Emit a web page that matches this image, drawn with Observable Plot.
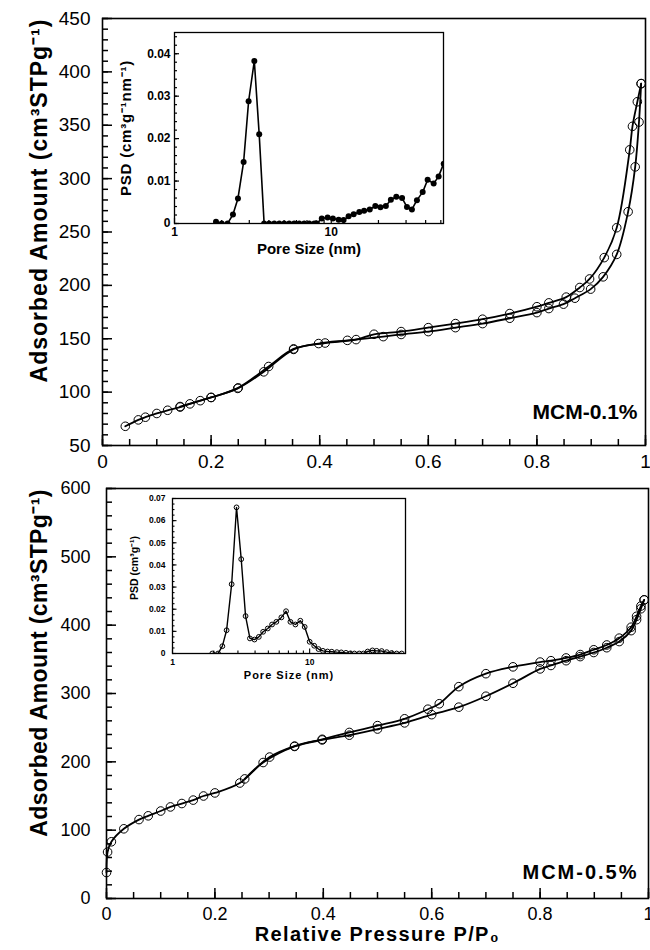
<!DOCTYPE html>
<html><head><meta charset="utf-8">
<script src="https://cdn.jsdelivr.net/npm/d3@7"></script>
<script src="https://cdn.jsdelivr.net/npm/@observablehq/plot@0.6"></script>
<style>
body{margin:0;background:white;}
#wrap{position:relative;width:650px;height:950px;font-family:"Liberation Sans",Arial,sans-serif;}
#wrap > div{position:absolute;}
</style></head><body><div id="wrap"></div>
<script>
// ---------- data: MCM-0.1% isotherm ----------
const topAdsP = [0.042,0.066,0.079,0.10,0.12,0.143,0.161,0.18,0.20,0.249,0.297,0.352,0.398,0.451,0.517,0.55,0.60,0.65,0.70,0.75,0.80,0.822,0.849,0.87,0.899,0.922,0.947,0.968,0.981,0.988,0.992];
const topAdsV = [68,74,76.5,80,83,86,89,92,95,103.5,119,140,145.5,148.5,152,154,156.7,160.4,164.2,169.2,174.5,178.3,182.4,188,196.5,208,229,269,311,353,389];
const topDesP = [0.992,0.985,0.976,0.971,0.947,0.924,0.897,0.879,0.854,0.822,0.80,0.75,0.70,0.65,0.60,0.55,0.50,0.467,0.41,0.352,0.306,0.25,0.20,0.143];
const topDesV = [389,372,349,327,254,226,206,198,189,183.6,180,173.6,168.3,164.2,160.4,156.7,154.2,149.2,146,140.5,124,104,95,86.5];
// ---------- data: MCM-0.5% isotherm ----------
const botAdsP = [0,0.002,0.009,0.032,0.06,0.077,0.10,0.118,0.139,0.16,0.179,0.20,0.246,0.289,0.347,0.398,0.448,0.50,0.55,0.60,0.65,0.70,0.75,0.80,0.82,0.848,0.874,0.899,0.923,0.946,0.968,0.978,0.986,0.992];
const botAdsV = [38,68,83,102,115.5,121,128,134,139,144,150,154.5,169,199,222.5,232,239,248,257,269,280,296,315,336,341,348,354,360,367,376,392,408,424,437];
const botDesP = [0.992,0.986,0.978,0.968,0.946,0.923,0.899,0.874,0.848,0.82,0.80,0.75,0.70,0.65,0.614,0.593,0.55,0.50,0.448,0.398,0.347,0.301,0.255];
const botDesV = [437,428,413,397,381,371,364,357,352,348,346,339,329,310,285,277,263,253,243,233,223,207,175];
// ---------- data: PSD insets ----------
const psd1D = [1.84,2.0,2.18,2.36,2.54,2.76,2.97,3.23,3.47,3.73,4.02,4.33,4.66,5.01,5.39,5.8,6.25,6.72,7.24,7.79,8.1,8.7,9.48,10.24,11.14,11.99,12.9,13.9,15.1,16.2,17.6,19.1,20.6,22.3,24.0,26.0,28.3,30.4,32.7,35.2,38.3,41.2,45.0,48.4,52.1];
const psd1V = [0.0004,0,0,0.0021,0.0059,0.0145,0.0288,0.0383,0.021,0,0,0,0,0,0,0,0,0,0,0,0,0.0012,0.0014,0.0012,0.0009,0.0008,0.0017,0.0022,0.0027,0.003,0.0033,0.0041,0.0038,0.0041,0.0056,0.0063,0.006,0.0039,0.0033,0.0055,0.0074,0.0103,0.0094,0.0111,0.0141];
const psd2D = [1.95,2.15,2.31,2.48,2.70,2.93,3.17,3.41,3.67,3.96,4.26,4.58,4.95,5.32,5.72,6.22,6.73,7.24,7.87,8.55,9.2,10,10.8,11.6,12.5,13.5,14.5,15.8,17.0,18.4,19.7,21.2,23.0,24.7,26.5,28.7,30.8,33.5,36.5,39.6,43.1,46.9];
const psd2V = [0,0,0.0033,0.0105,0.0313,0.066,0.0426,0.0169,0.0068,0.0063,0.0075,0.0098,0.0113,0.0131,0.0143,0.0163,0.0191,0.0143,0.0131,0.0148,0.012,0.0053,0.0035,0.002,0.0012,0.0009,0.0008,0.0006,0.0005,0.0003,0,0,0,0,0.0009,0.0014,0.0012,0.0011,0.0006,0.0002,0,0];
// ---------- ticks ----------
const xTickLabels = [0,0.2,0.4,0.6,0.8,1];
const topYTickLabels = [50,100,150,200,250,300,350,400,450];
const botYTickLabels = [0,100,200,300,400,500,600];
const inset1YTicks = [0,0.01,0.02,0.03,0.04];
const inset2YTicks = [0,0.01,0.02,0.03,0.04,0.05,0.06,0.07];
const logMajor = [1,10];
const logMinor = [2,3,4,5,6,7,8,9,20,30,40,50];

const pairs = (P,V) => P.map((p,i)=>({p, v:V[i]}));
const topAds = pairs(topAdsP, topAdsV), topDes = pairs(topDesP, topDesV);
const botAds = pairs(botAdsP, botAdsV), botDes = pairs(botDesP, botDesV);
const psd1 = pairs(psd1D, psd1V), psd2 = pairs(psd2D, psd2V);

const range = (a,b,s) => d3.range(Math.round((b-a)/s)+1).map(i => +(a+i*s).toFixed(6));
const fmtX = d => String(d);
const baseStyle = {background:"transparent", fontFamily:"'Liberation Sans', Arial, sans-serif", color:"black", overflow:"visible"};

// Inward axis ticks drawn as rules; a pixel tick length is converted to data units
// from the scale's domain and the frame size.
function tickMarks(cfg){
  const {xDomain, yDomain, xLog, innerW, innerH, xMajor, xMinor, yMajor, yMinor, lenMajor, lenMinor, w} = cfg;
  const yAt = px => yDomain[0] + px * (yDomain[1] - yDomain[0]) / innerH;
  const xAt = px => xLog ? xDomain[0] * Math.pow(xDomain[1] / xDomain[0], px / innerW) : xDomain[0] + px * (xDomain[1] - xDomain[0]) / innerW;
  const st = {stroke:"black", strokeWidth:w};
  return [
    Plot.ruleX(xMinor, {x:d=>d, y1:yDomain[0], y2:yAt(lenMinor), ...st}),
    Plot.ruleX(xMajor, {x:d=>d, y1:yDomain[0], y2:yAt(lenMajor), ...st}),
    Plot.ruleY(yMinor, {y:d=>d, x1:xDomain[0], x2:xAt(lenMinor), ...st}),
    Plot.ruleY(yMajor, {y:d=>d, x1:xDomain[0], x2:xAt(lenMajor), ...st})
  ];
}

function place(el, left, top){ const d=document.createElement("div"); d.style.left=left+"px"; d.style.top=top+"px"; d.appendChild(el); document.getElementById("wrap").appendChild(d); }
function space(svg, txt, px){ d3.select(svg).selectAll("text").filter(function(){ return this.textContent === txt; }).attr("letter-spacing", px); }

function iso(ads, des){
  return [
    Plot.line(ads, {x:"p", y:"v", stroke:"black", strokeWidth:1.8, curve:"catmull-rom"}),
    Plot.line(des, {x:"p", y:"v", stroke:"black", strokeWidth:1.8, curve:"catmull-rom"}),
    Plot.dot(ads, {x:"p", y:"v", r:4.3, stroke:"black", fill:"none", strokeWidth:1}),
    Plot.dot(des, {x:"p", y:"v", r:4.3, stroke:"black", fill:"none", strokeWidth:1})
  ];
}
const yLabel = "Adsorbed Amount (cm³STPg⁻¹)";

// ---------- top main chart ----------
const T = {w:650, h:470, ml:102, mr:5, mt:18, mb:25};
const topX = [0,1], topY = [50,450];
const topPlot = Plot.plot({
  width:T.w, height:T.h, marginLeft:T.ml, marginRight:T.mr, marginTop:T.mt, marginBottom:T.mb,
  style: baseStyle,
  x:{domain:topX}, y:{domain:topY},
  marks:[
    ...iso(topAds, topDes),
    ...tickMarks({xDomain:topX, yDomain:topY, innerW:T.w-T.ml-T.mr, innerH:T.h-T.mt-T.mb,
      xMajor:xTickLabels, xMinor:range(0,1,0.05), yMajor:topYTickLabels, yMinor:range(50,450,10), lenMajor:10, lenMinor:6, w:1.5}),
    Plot.frame({stroke:"black", strokeWidth:1.6}),
    Plot.axisX(xTickLabels, {tickSize:0, tickPadding:9, fontSize:19, tickFormat:fmtX, label:null}),
    Plot.axisY(topYTickLabels, {tickSize:0, tickPadding:12, fontSize:19, label:null}),
    Plot.text([yLabel], {frameAnchor:"left", textAnchor:"middle", rotate:-90, dx:-63, dy:-31.5, fontSize:23, fontWeight:"bold"}),
    Plot.text(["MCM-0.1%"], {frameAnchor:"bottom-right", textAnchor:"end", dx:-8, dy:-27, fontSize:21, fontWeight:"bold"})
  ]
});
space(topPlot, yLabel, 1);
place(topPlot, 0, 0);

// ---------- bottom main chart ----------
const B = {w:650, h:480, ml:106, mr:2, mt:18, mb:52};
const botX = [0,1], botY = [0,600];
const botPlot = Plot.plot({
  width:B.w, height:B.h, marginLeft:B.ml, marginRight:B.mr, marginTop:B.mt, marginBottom:B.mb,
  style: baseStyle,
  x:{domain:botX}, y:{domain:botY},
  marks:[
    ...iso(botAds, botDes),
    ...tickMarks({xDomain:botX, yDomain:botY, innerW:B.w-B.ml-B.mr, innerH:B.h-B.mt-B.mb,
      xMajor:xTickLabels, xMinor:range(0,1,0.05), yMajor:botYTickLabels, yMinor:range(0,600,20), lenMajor:10, lenMinor:6, w:1.5}),
    Plot.frame({stroke:"black", strokeWidth:1.6}),
    Plot.axisX(xTickLabels, {tickSize:0, tickPadding:9, fontSize:18, tickFormat:fmtX, label:null}),
    Plot.axisY(botYTickLabels, {tickSize:0, tickPadding:16, fontSize:18, label:null}),
    Plot.text([yLabel], {frameAnchor:"left", textAnchor:"middle", rotate:-90, dx:-67, dy:-30.5, fontSize:23, fontWeight:"bold"}),
    Plot.text(["MCM-0.5%"], {frameAnchor:"bottom-right", textAnchor:"end", dx:-10, dy:-20, fontSize:20, fontWeight:"bold"}),
    Plot.text(["Relative Pressure P/P₀"], {frameAnchor:"bottom", dy:42, fontSize:20, fontWeight:"bold"})
  ]
});
space(botPlot, yLabel, 0.4);
space(botPlot, "MCM-0.5%", 2);
space(botPlot, "Relative Pressure P/P₀", 1.4);
place(botPlot, 0, 470);

// ---------- inset 1 ----------
const in1Label = "PSD (cm³g⁻¹nm⁻¹)";
const I1 = {w:345, h:250, ml:64, mr:12, mt:12, mb:47};
const in1X = [1,52], in1Y = [0,0.045];
const in1 = Plot.plot({
  width:I1.w, height:I1.h, marginLeft:I1.ml, marginRight:I1.mr, marginTop:I1.mt, marginBottom:I1.mb,
  style: baseStyle,
  x:{type:"log", domain:in1X}, y:{domain:in1Y},
  marks:[
    Plot.line(psd1, {x:"p", y:"v", stroke:"black", strokeWidth:1.6, clip:true}),
    Plot.dot(psd1, {x:"p", y:"v", r:3, fill:"black", clip:true}),
    ...tickMarks({xDomain:in1X, yDomain:in1Y, xLog:true, innerW:I1.w-I1.ml-I1.mr, innerH:I1.h-I1.mt-I1.mb,
      xMajor:logMajor, xMinor:logMinor, yMajor:inset1YTicks, yMinor:range(0,0.044,0.002), lenMajor:5, lenMinor:3, w:1.2}),
    Plot.frame({stroke:"black", strokeWidth:1.3}),
    Plot.axisX(logMajor, {tickSize:0, tickPadding:4, fontSize:12, fontWeight:"bold", tickFormat:d=>String(d), label:null}),
    Plot.axisY(inset1YTicks, {tickSize:0, tickPadding:4, fontSize:12, fontWeight:"bold", tickFormat:d=>String(d), label:null}),
    Plot.text([in1Label], {frameAnchor:"left", textAnchor:"middle", rotate:-90, dx:-48, fontSize:15, fontWeight:"bold"}),
    Plot.text(["Pore Size (nm)"], {frameAnchor:"bottom", dy:30, fontSize:15, fontWeight:"bold"})
  ]
});
space(in1, in1Label, 0.8);
place(in1, 110, 20);

// ---------- inset 2 ----------
const I2 = {w:300, h:210, ml:57, mr:10, mt:13, mb:42};
const in2X = [1,50], in2Y = [0,0.07];
const in2 = Plot.plot({
  width:I2.w, height:I2.h, marginLeft:I2.ml, marginRight:I2.mr, marginTop:I2.mt, marginBottom:I2.mb,
  style: baseStyle,
  x:{type:"log", domain:in2X}, y:{domain:in2Y},
  marks:[
    Plot.line(psd2, {x:"p", y:"v", stroke:"black", strokeWidth:1.4, clip:true}),
    Plot.dot(psd2, {x:"p", y:"v", r:2.4, stroke:"black", fill:"none", strokeWidth:1, clip:true}),
    ...tickMarks({xDomain:in2X, yDomain:in2Y, xLog:true, innerW:I2.w-I2.ml-I2.mr, innerH:I2.h-I2.mt-I2.mb,
      xMajor:logMajor, xMinor:logMinor, yMajor:inset2YTicks, yMinor:range(0,0.07,0.0025), lenMajor:4.5, lenMinor:2.5, w:1.1}),
    Plot.frame({stroke:"black", strokeWidth:1.3}),
    Plot.axisX(logMajor, {tickSize:0, tickPadding:5, fontSize:8.5, fontWeight:"bold", tickFormat:d=>String(d), label:null}),
    Plot.axisY(inset2YTicks, {tickSize:0, tickPadding:7, fontSize:8.5, fontWeight:"bold", tickFormat:d=>String(d), label:null}),
    Plot.text(["PSD (cm³g⁻¹)"], {frameAnchor:"left", textAnchor:"middle", rotate:-90, dx:-38, dy:-8, fontSize:10.5, fontWeight:"bold"}),
    Plot.text(["Pore Size (nm)"], {frameAnchor:"bottom", dy:25, fontSize:11, fontWeight:"bold"})
  ]
});
space(in2, "Pore Size (nm)", 1);
place(in2, 115, 485);
</script>
</body></html>
